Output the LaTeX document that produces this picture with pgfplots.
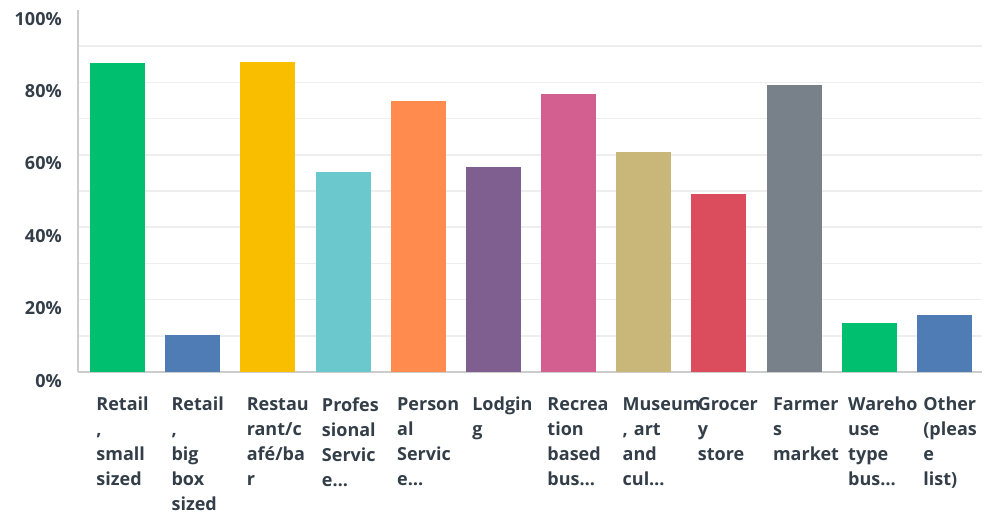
\documentclass[border=0pt]{standalone}
\usepackage{pgfplots}
\pgfplotsset{compat=1.18}
\usepackage{fontspec}
\setmainfont{Open Sans}

\definecolor{txt}{HTML}{333E48}
\definecolor{axisgray}{HTML}{CCCCCC}
\definecolor{gridgray}{HTML}{EEEEEE}
\definecolor{c1}{HTML}{00BF6F}
\definecolor{c2}{HTML}{507CB6}
\definecolor{c3}{HTML}{F9BE00}
\definecolor{c4}{HTML}{6BC8CD}
\definecolor{c5}{HTML}{FF8B4F}
\definecolor{c6}{HTML}{7F5F90}
\definecolor{c7}{HTML}{D25F90}
\definecolor{c8}{HTML}{C9B77A}
\definecolor{c9}{HTML}{DB4D5C}
\definecolor{c10}{HTML}{78808A}

\begin{document}
\begin{tikzpicture}
\begin{axis}[
    scale only axis,
    width=678pt, height=271.5pt,
    xmin=-0.525, xmax=11.5,
    ymin=0, ymax=100,
    clip=false,
    axis line style={draw=none},
    ybar, bar width=41.25pt, bar shift=0pt,
    xtick={0,...,11},
    xticklabels={
        {Retail\\,\\small\\sized},
        {Retail\\,\\big\\box\\sized},
        {Restau\\rant/c\\afé/ba\\r},
        {Profes\\sional\\Servic\\e…},
        {Person\\al\\Servic\\e…},
        {Lodgin\\g},
        {Recrea\\tion\\based\\bus…},
        {Museum\\, art\\and\\cul…},
        {Grocer\\y\\store},
        {Farmer\\s\\market},
        {Wareho\\use\\type\\bus…},
        {Other\\(pleas\\e\\list)}},
    tick style={draw=none},
    major tick length=0pt, minor tick length=0pt,
    xticklabel style={anchor=north west, inner sep=0pt, xshift=-16pt, yshift=-18.75pt,
        text width=38pt, align=left, font=\fontsize{13.5}{18.75}\selectfont\bfseries, text=txt},
    ytick={0,20,...,80},
    extra y ticks={100},
    extra y tick style={ymajorgrids=false},
    minor ytick={10,30,...,90},
    ymajorgrids, yminorgrids,
    major grid style={draw=gridgray, line width=1.2pt},
    minor grid style={draw=gridgray, line width=1.2pt},
    yticklabel={\pgfmathprintnumber{\tick}\%},
    yticklabel style={anchor=east, inner sep=0pt, xshift=-12pt, yshift=-6.5pt,
        font=\fontsize{13.5}{16}\selectfont\bfseries, text=txt},
    /pgf/number format/assume math mode=true,
]
\path (rel axis cs:-0.0863,-0.392) rectangle (rel axis cs:1.0055,1.0276);
\draw[axisgray, line width=1.5pt] (rel axis cs:0,0) -- (rel axis cs:0,1);
\draw[axisgray, line width=1.5pt] (rel axis cs:0,0) -- (rel axis cs:1,0);
\addplot[fill=c1, draw=none] coordinates {(0,85.4)};
\addplot[fill=c2, draw=none] coordinates {(1,10.2)};
\addplot[fill=c3, draw=none] coordinates {(2,85.6)};
\addplot[fill=c4, draw=none] coordinates {(3,55.2)};
\addplot[fill=c5, draw=none] coordinates {(4,74.9)};
\addplot[fill=c6, draw=none] coordinates {(5,56.6)};
\addplot[fill=c7, draw=none] coordinates {(6,76.8)};
\addplot[fill=c8, draw=none] coordinates {(7,60.8)};
\addplot[fill=c9, draw=none] coordinates {(8,49.2)};
\addplot[fill=c10, draw=none] coordinates {(9,79.3)};
\addplot[fill=c1, draw=none] coordinates {(10,13.5)};
\addplot[fill=c2, draw=none] coordinates {(11,15.7)};
\end{axis}
\end{tikzpicture}
\end{document}
